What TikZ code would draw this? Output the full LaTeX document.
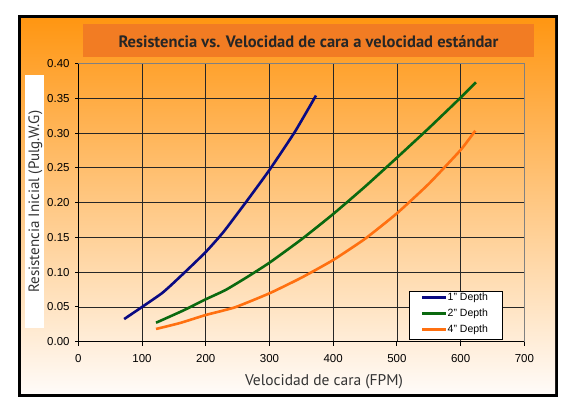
\documentclass[tikz,border=0pt]{standalone}
\usepackage{fontspec}
\setmainfont{Liberation Sans}
\newfontfamily\myriad{PT Sans}
\definecolor{bgtop}{RGB}{255,150,18}
\definecolor{bgmid}{RGB}{253,205,160}
\definecolor{bgbot}{RGB}{255,251,248}
\definecolor{titlebox}{RGB}{242,124,35}
\definecolor{titletext}{RGB}{38,38,38}
\definecolor{cblue}{RGB}{10,10,130}
\definecolor{cgreen}{RGB}{10,105,15}
\definecolor{corange}{RGB}{255,112,16}
\tikzset{
  gridline/.style={line width=0.8pt, black!85},
  curve/.style={line width=2.6pt, smooth, tension=0.3, line cap=butt},
  ticklbl/.style={inner sep=0pt, font=\fontsize{11.5}{13}\selectfont},
  legtext/.style={inner sep=0pt, anchor=west, font=\fontsize{10.5}{12}\selectfont},
}
\begin{document}
\begin{tikzpicture}[x=1pt,y=-1pt]
\useasboundingbox (0,0) rectangle (564,402);
% frame
\fill[black] (18,15) rectangle (558,397);
\shade[top color=bgtop, middle color=bgmid, bottom color=bgbot] (21,18) rectangle (555,393);
% title box
\fill[titlebox] (83,24) rectangle (534,57);
\node[font=\myriad\bfseries\fontsize{16.5}{18}\selectfont, text=titletext, anchor=base] (title) at (308.5,47.5) {Resistencia vs. Velocidad de cara a velocidad estándar};
% y label white box
\fill[white] (25,75) rectangle (44,328);
\node[font=\myriad\fontsize{15}{17}\selectfont, text=black!80, rotate=90] (ylabel) at (35.5,201.7) {Resistencia Inicial (Pulg.W.G)};
\node[font=\myriad\fontsize{15.5}{17}\selectfont, text=black!80, anchor=base] (xlabel) at (324,385) {Velocidad de cara (FPM)};
% data scope
\begin{scope}[shift={(78.3,341.7)}, x=0.6372pt, y=695.4pt]
  % grid
  \foreach \gx in {100,200,...,600} \draw[gridline] (\gx,0) -- (\gx,0.4);
  \foreach \gy in {0.05,0.10,...,0.36} \draw[gridline] (0,\gy) -- (700,\gy);
  \draw[line width=0.8pt, black!50] (0,0.4) -- (700,0.4) -- (700,0);
  % axes
  \draw[line width=0.9pt, black] (0,0.4) -- (0,0) -- (700,0);
  \foreach \gy/\lab in {0/0.00,0.05/0.05,0.10/0.10,0.15/0.15,0.20/0.20,0.25/0.25,0.30/0.30,0.35/0.35,0.40/0.40} {
    \draw[line width=0.9pt] (0,\gy) -- ++(-3.8pt,0);
    \node[ticklbl, anchor=east] at ([xshift=-8.5pt]0,\gy) {\lab};
  }
  \foreach \gx in {0,100,...,700} {
    \draw[line width=0.9pt] (\gx,0) -- ++(0,-3.8pt);
    \node[ticklbl, anchor=base] at ([yshift=-20.8pt]\gx,0) {\gx};
  }
  % curves
  \draw[curve, cblue] plot coordinates {(72,0.0326) (131,0.0696) (165,0.098) (200,0.129) (228,0.158) (265,0.203) (300,0.247) (340,0.302) (373,0.354)};
  \draw[curve, cgreen] plot coordinates {(122,0.0273) (165,0.045) (200,0.061) (231,0.0743) (265,0.093) (300,0.1136) (350,0.147) (400,0.1836) (450,0.223) (500,0.2646) (550,0.307) (600,0.351) (624,0.373)};
  \draw[curve, corange] plot coordinates {(122,0.0183) (160,0.027) (200,0.0384) (246,0.0495) (300,0.0696) (350,0.092) (400,0.1175) (450,0.148) (500,0.1846) (550,0.227) (600,0.2757) (623,0.3034)};
\end{scope}
% legend
\node[draw=black, line width=0.9pt, fill=white, minimum width=93pt, minimum height=47.7pt, inner sep=0pt, anchor=north west] (legend) at (409.3,291.3) {};
\coordinate (l1a) at (422.3,297.7); \coordinate (l1b) at (445.7,297.7);
\coordinate (l2a) at (422.3,313.7); \coordinate (l2b) at (445.7,313.7);
\coordinate (l3a) at (422.3,329.3); \coordinate (l3b) at (445.7,329.3);
\draw[line width=2.6pt, cblue] (l1a) -- (l1b);
\draw[line width=2.6pt, cgreen] (l2a) -- (l2b);
\draw[line width=2.6pt, corange] (l3a) -- (l3b);
\node[legtext] (t1) at (447.5,298.2) {1" Depth};
\node[legtext] (t2) at (447.5,314.2) {2" Depth};
\node[legtext] (t3) at (447.5,329.8) {4" Depth};
\end{tikzpicture}
\end{document}
